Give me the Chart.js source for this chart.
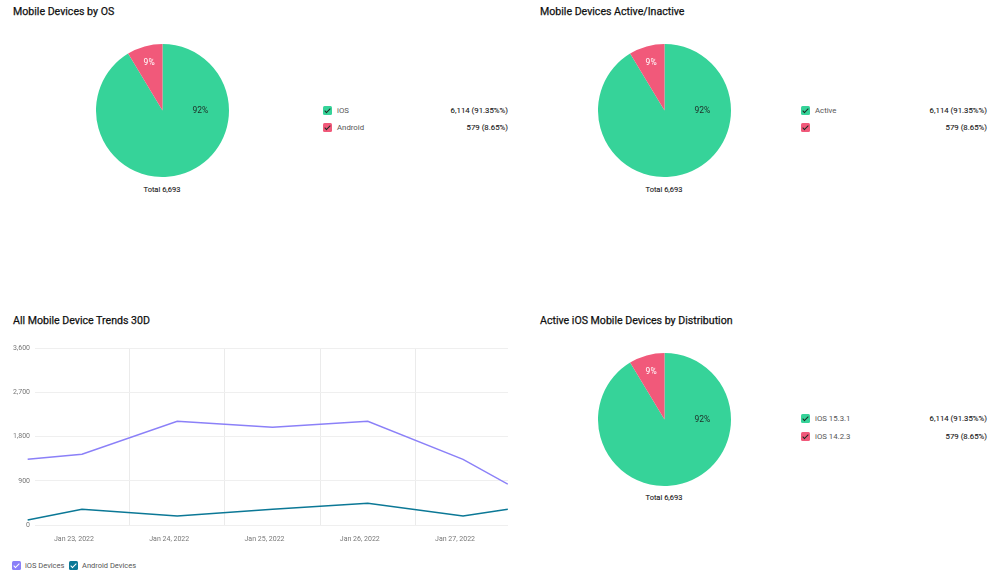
<!DOCTYPE html>
<html>
<head>
<meta charset="utf-8">
<script src="https://cdn.jsdelivr.net/npm/chart.js@4.4.1/dist/chart.umd.min.js"></script>
<style>
body { margin: 0; width: 999px; height: 580px; background: #fff; font-family: Roboto, "Noto Sans", sans-serif; position: relative; overflow: hidden; }
.title { position: absolute; font-size: 10.6px; font-weight: 400; color: #111; white-space: nowrap; -webkit-text-stroke: 0.25px #111; }
.wrap { position: absolute; }
.total { position: absolute; font-size: 7.5px; font-weight: 400; color: #1a1a1a; transform: translateX(-50%); white-space: nowrap; -webkit-text-stroke: 0.1px #1a1a1a; }
.row { position: absolute; height: 10px; font-size: 7.8px; line-height: 10px; white-space: nowrap; }
.box { position: absolute; left: 0; top: 0; width: 9px; height: 9px; border-radius: 1.5px; }
.box::after { content: ''; position: absolute; left: 3px; top: 1px; width: 2px; height: 5px; border: solid #1d2b24; border-width: 0 1.2px 1.2px 0; transform: rotate(45deg); }
.box.light::after { border-color: #fff; }
.lbl { position: absolute; left: 14px; color: #555; }
.val { position: absolute; right: 0; color: #1a1a1a; font-weight: 400; -webkit-text-stroke: 0.1px #1a1a1a; }
</style>
</head>
<body>
<script>
// Datos de las tortas
const osLabels = ["iOS", "Android"]
const osValues = [6114, 579]
const osValueText = ["6,114 (91.35%%)", "579 (8.65%)"]

const activeLabels = ["Active", ""]
const activeValues = [6114, 579]
const activeValueText = ["6,114 (91.35%%)", "579 (8.65%)"]

const distLabels = ["iOS 15.3.1", "iOS 14.2.3"]
const distValues = [6114, 579]
const distValueText = ["6,114 (91.35%%)", "579 (8.65%)"]

// Datos de la tendencia (dias desde Jan 23, 2022)
const trendDays = [-0.57, 0, 1, 2, 3, 4, 4.47]
const iosDevices = [1335, 1440, 2110, 1990, 2110, 1335, 830]
const androidDevices = [100, 320, 185, 320, 440, 185, 320]
const dayLabels = ["Jan 23, 2022", "Jan 24, 2022", "Jan 25, 2022", "Jan 26, 2022", "Jan 27, 2022"]
const yTicks = [0, 900, 1800, 2700, 3600]

const pieColors = ["#36d399", "#f1597a"]
const iosColor = "#8b80f8"
const androidColor = "#0b7896"

function addEl(cls, css, text) {
    const el = document.createElement("div")
    el.className = cls
    Object.assign(el.style, css)
    if (text !== undefined) el.textContent = text
    document.body.appendChild(el)
    return el
}

const pieLabelPlugin = {
    id: "pieLabels",
    afterDatasetsDraw(chart) {
        const ctx = chart.ctx
        const meta = chart.getDatasetMeta(0)
        const total = chart.data.datasets[0].data.reduce((a, b) => a + b, 0)
        meta.data.forEach((arc, i) => {
            const value = chart.data.datasets[0].data[i]
            const frac = value / total
            let angle, r
            if (frac > 0.5) {
                angle = arc.startAngle + Math.PI / 2
                r = arc.outerRadius * 0.57
            } else {
                angle = (arc.startAngle + arc.endAngle) / 2
                r = arc.outerRadius * 0.75
            }
            ctx.save()
            ctx.font = "8.5px Roboto"
            ctx.fillStyle = frac > 0.5 ? "#1f2d27" : "#ffffff"
            ctx.textAlign = "center"
            ctx.textBaseline = "middle"
            ctx.fillText(Math.ceil(frac * 100) + "%", arc.x + Math.cos(angle) * r, arc.y + Math.sin(angle) * r)
            ctx.restore()
        })
    }
}

function renderPie(titulo, titleX, titleY, cx, cy, labels, values, valueText, boxX, valRight) {
    addEl("title", { left: titleX + "px", top: titleY + "px" }, titulo)
    const radius = 66.5
    const wrap = addEl("wrap", { left: (cx - radius) + "px", top: (cy - radius) + "px", width: radius * 2 + "px", height: radius * 2 + "px" })
    const canvas = document.createElement("canvas")
    wrap.appendChild(canvas)
    new Chart(canvas, {
        type: "pie",
        data: {
            labels: labels,
            datasets: [{ data: values, backgroundColor: pieColors, borderWidth: 0 }]
        },
        options: {
            responsive: true,
            maintainAspectRatio: false,
            animation: false,
            layout: { padding: 0 },
            plugins: { legend: { display: false }, tooltip: { enabled: false } }
        },
        plugins: [pieLabelPlugin]
    })
    const total = values.reduce((a, b) => a + b, 0)
    addEl("total", { left: cx + "px", top: (cy + 74) + "px" }, "Total " + total.toLocaleString("en-US"))
    labels.forEach((lbl, i) => {
        const row = addEl("row", { left: boxX + "px", top: (cy - 5 + i * 17.5) + "px", width: (valRight - boxX) + "px" })
        const box = document.createElement("div")
        box.className = "box"
        box.style.background = pieColors[i]
        row.appendChild(box)
        const t = document.createElement("div")
        t.className = "lbl"
        t.textContent = lbl
        row.appendChild(t)
        const v = document.createElement("div")
        v.className = "val"
        v.textContent = valueText[i]
        row.appendChild(v)
    })
}

renderPie("Mobile Devices by OS", 13, 5, 162, 110.5, osLabels, osValues, osValueText, 323, 508)
renderPie("Mobile Devices Active/Inactive", 540, 5, 664, 110.5, activeLabels, activeValues, activeValueText, 801, 987)
renderPie("Active iOS Mobile Devices by Distribution", 540, 314, 664, 419, distLabels, distValues, distValueText, 801, 987)

// Grafica de lineas
addEl("title", { left: "13px", top: "314px" }, "All Mobile Device Trends 30D")
const lineWrap = addEl("wrap", { left: "0px", top: "338px", width: "508px", height: "212px" })
const lineCanvas = document.createElement("canvas")
lineWrap.appendChild(lineCanvas)

const xTickValues = dayLabels.flatMap((l, i) => i < dayLabels.length - 1 ? [i, i + 0.5] : [i])

new Chart(lineCanvas, {
    type: "line",
    data: {
        datasets: [{
            label: "iOS Devices",
            data: trendDays.map((d, i) => ({ x: d, y: iosDevices[i] })),
            borderColor: iosColor,
            borderWidth: 1.5,
            pointRadius: 0,
            tension: 0,
            clip: false
        }, {
            label: "Android Devices",
            data: trendDays.map((d, i) => ({ x: d, y: androidDevices[i] })),
            borderColor: androidColor,
            borderWidth: 1.5,
            pointRadius: 0,
            tension: 0,
            clip: false
        }]
    },
    options: {
        responsive: true,
        maintainAspectRatio: false,
        animation: false,
        layout: { padding: { top: 10, left: 0, right: 0, bottom: 0 } },
        plugins: { legend: { display: false }, tooltip: { enabled: false } },
        scales: {
            x: {
                type: "linear",
                min: -0.493,
                max: 4.472,
                afterBuildTicks: s => { s.ticks = xTickValues.map(v => ({ value: v })) },
                afterFit: s => { s.height = 25 },
                ticks: {
                    autoSkip: false,
                    maxRotation: 0,
                    color: "#777",
                    font: { size: 7, family: "Roboto" },
                    padding: 10,
                    labelOffset: -8,
                    callback: v => Number.isInteger(v) ? dayLabels[v] : ""
                },
                grid: {
                    drawTicks: false,
                    color: c => (c.tick && !Number.isInteger(c.tick.value)) ? "#ebebeb" : "rgba(0,0,0,0)"
                },
                border: { display: false }
            },
            y: {
                min: 0,
                max: 3600,
                afterBuildTicks: s => { s.ticks = yTicks.map(v => ({ value: v })) },
                afterFit: s => { s.width = 35 },
                ticks: {
                    color: "#777",
                    font: { size: 7, family: "Roboto" },
                    padding: 5,
                    callback: v => v.toLocaleString("en-US")
                },
                grid: { drawTicks: false, color: "#efefef" },
                border: { display: false }
            }
        }
    }
})

// Leyenda de la grafica de lineas
const legendItems = [["iOS Devices", iosColor, 12], ["Android Devices", androidColor, 69]]
legendItems.forEach(([txt, col, x]) => {
    const row = addEl("row", { left: x + "px", top: "561px", width: "90px" })
    row.style.fontSize = "7.5px"
    const box = document.createElement("div")
    box.className = "box light"
    box.style.background = col
    row.appendChild(box)
    const t = document.createElement("div")
    t.className = "lbl"
    t.style.left = "13px"
    t.textContent = txt
    row.appendChild(t)
})
</script>
</body>
</html>
